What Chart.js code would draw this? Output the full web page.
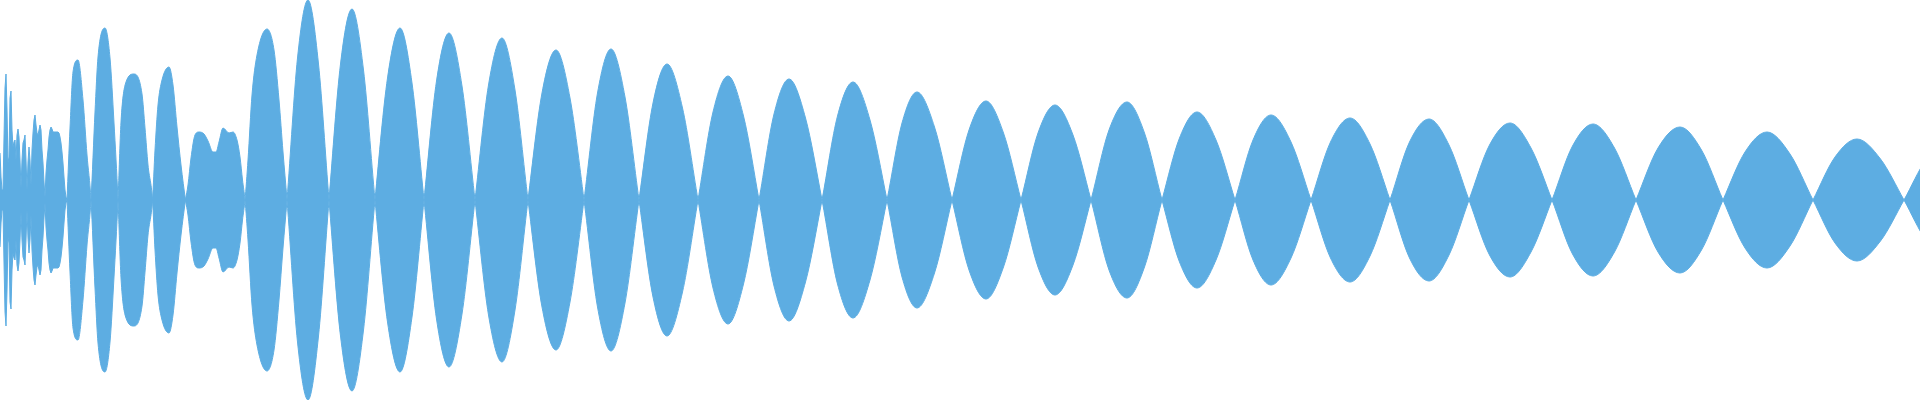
<!DOCTYPE html>
<html>
<head>
<meta charset="utf-8">
<title>Waveform</title>
<script src="https://cdn.jsdelivr.net/npm/chart.js@4.4.1/dist/chart.umd.min.js"></script>
<style>
  html, body { margin: 0; padding: 0; background: #ffffff; }
  #wrap { width: 1920px; height: 400px; }
</style>
</head>
<body>
<div id="wrap"><canvas id="wave" width="1920" height="400"></canvas></div>
<script>
// onset: peak level per column (x = index), drawn mirrored
const spikeAmp = [
  47, 23, 10, 10, 63, 112, 126, 91, 37, 43,
  102, 109, 70, 53, 58, 60, 40, 65, 71, 63,
  40, 12, 40, 57, 60, 65, 40, 10, 38, 53,
  40, 15, 50, 67, 80, 85, 75, 67, 65, 70,
  75, 70, 50, 37, 18, 3, 27, 40, 50, 63,
  70, 73, 71, 68, 68, 68, 68, 68, 68, 67,
  63, 57, 48, 37, 23, 10, 3, 0
];

// tone part: the signal swings through zero between lobes
const sigX = [
  67, 70, 73, 78, 83, 87,
  91, 95, 98, 105, 110, 114,
  118, 121, 126, 134, 142, 145, 148,
  152.5, 155, 158, 162, 169, 173, 177, 181,
  185.5, 188, 191, 195, 199, 204, 208, 213, 216, 219, 223, 229, 233, 237, 240, 242.5,
  245, 248, 252, 257, 267, 274, 279, 283,
  287, 297.5, 308, 318.5,
  329, 340.5, 352, 363.5,
  375, 387.5, 400, 412,
  424, 436.5, 449, 462,
  475, 488.5, 502, 515,
  528, 542, 556, 570,
  584, 597.5, 611, 625,
  639, 653, 667, 682.5,
  698, 713, 728, 743.5,
  759, 774, 789, 805.5,
  822, 837.5, 853, 870,
  887, 902, 917, 934.5,
  952, 969, 986, 1003.5,
  1021, 1038, 1055, 1073,
  1091, 1109, 1127, 1144.5,
  1162, 1179.5, 1197, 1216,
  1235, 1253, 1271, 1291,
  1311, 1330.5, 1350, 1370,
  1390, 1409.5, 1429, 1449,
  1469, 1489.5, 1510, 1531,
  1552, 1572.5, 1593, 1614.5,
  1636, 1658, 1680, 1701.5,
  1723, 1745, 1767, 1790,
  1813, 1835, 1857, 1880.5,
  1904, 1926, 1948
];
const sigLevel = [
  0, 72, 128, 140, 100, 45,
  0, -88, -143, -172, -142, -77,
  0, 78, 118, 126, 106, 72, 35,
  0, -50, -95, -120, -133, -115, -73, -35,
  0, 15, 42, 65, 68, 66, 59, 48, 48, 58, 72, 67, 68, 60, 43, 20,
  0, -40, -105, -145, -171, -150, -100, -48,
  0, 142, 200, 136,
  0, -136, -191, -130,
  0, 122, 172, 117,
  0, -119, -167, -114,
  0, 115, 162, 110,
  0, -107, -150, -102,
  0, 107, 151, 103,
  0, -97, -136, -92,
  0, 88, 124, 84,
  0, -86, -121, -82,
  0, 84, 118, 80,
  0, -77, -108, -73,
  0, 70, 99, 67,
  0, -67, -95, -65,
  0, 70, 98, 67,
  0, -62, -88, -60,
  0, 60, 85, 58,
  0, -58, -82, -56,
  0, 58, 81, 55,
  0, -55, -77, -52,
  0, 54, 76, 52,
  0, -52, -73, -50,
  0, 48, 68, 46,
  0, -43, -61, -41,
  0, 40, 57
];

const waveColor = '#5dade2';

const spikeTop = spikeAmp.map((v, i) => ({ x: i, y: v }));
const spikeBottom = spikeAmp.map((v, i) => ({ x: i, y: -v }));
const sigPos = sigX.map((x, i) => ({ x: x, y: sigLevel[i] }));
const sigNeg = sigX.map((x, i) => ({ x: x, y: -sigLevel[i] }));

function area(points, smooth) {
  return {
    data: points,
    fill: 'origin',
    backgroundColor: waveColor,
    borderColor: waveColor,
    borderWidth: 1,
    pointRadius: 0,
    tension: smooth ? 0.4 : 0,
    cubicInterpolationMode: smooth ? 'monotone' : 'default'
  };
}

new Chart(document.getElementById('wave').getContext('2d'), {
  type: 'line',
  data: {
    datasets: [
      area(spikeTop, false),
      area(spikeBottom, false),
      area(sigPos, true),
      area(sigNeg, true)
    ]
  },
  options: {
    responsive: false,
    animation: false,
    devicePixelRatio: 1,
    layout: { padding: 0 },
    plugins: {
      legend: { display: false },
      tooltip: { enabled: false }
    },
    scales: {
      x: { type: 'linear', min: 0, max: 1920, display: false },
      y: { min: -200, max: 200, display: false }
    }
  }
});
</script>
</body>
</html>
